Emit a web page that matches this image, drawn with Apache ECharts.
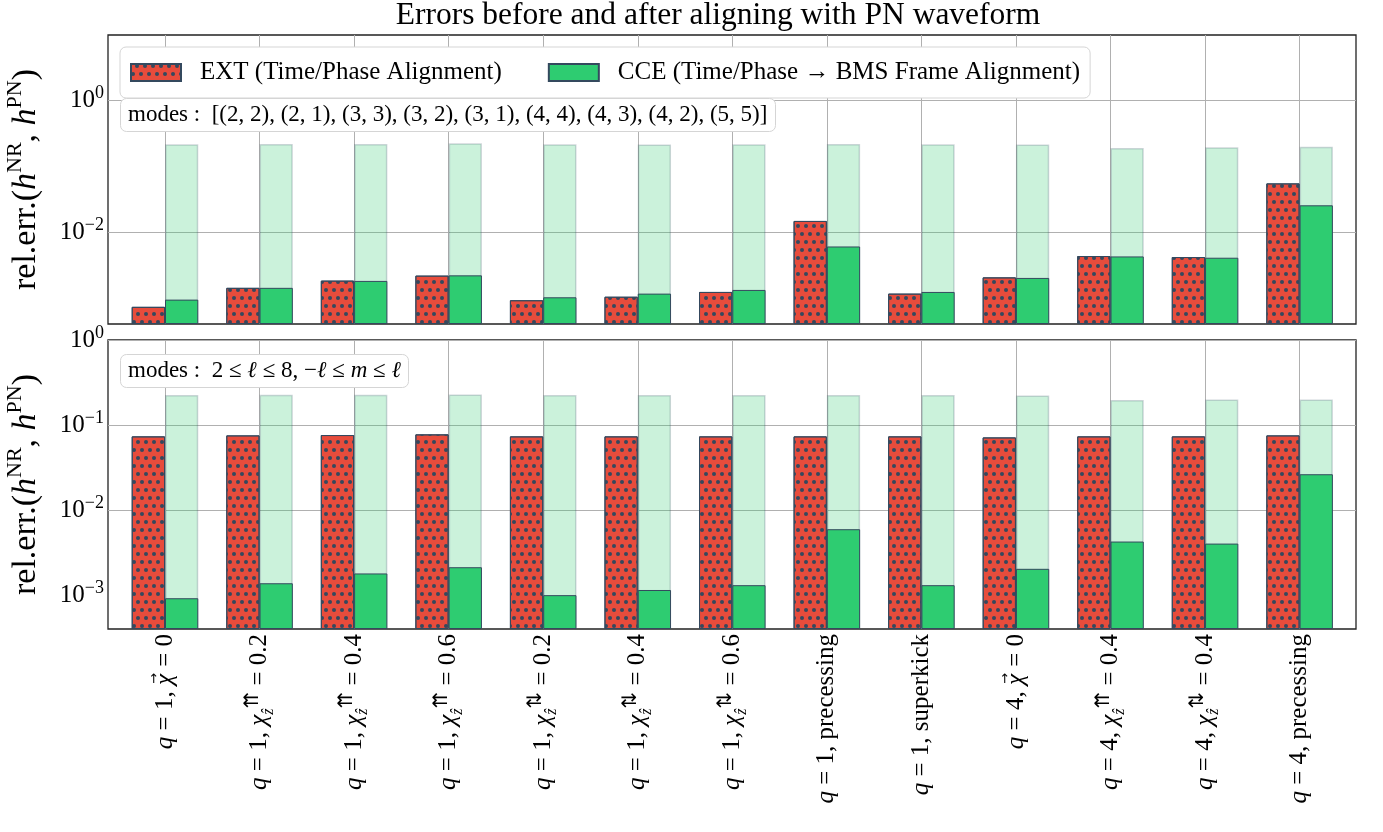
<!DOCTYPE html>
<html>
<head>
<meta charset="utf-8">
<script src="https://cdn.jsdelivr.net/npm/echarts@6/dist/echarts.min.js"></script>
<style>
  html, body { margin: 0; padding: 0; background: #fff; }
  #chart { width: 1383px; height: 832px; }
</style>
</head>
<body>
<div id="chart"></div>
<script>
// --- data ---
const categories = [
    "{i|q} = 1, {i|χ}{vec|→} = 0",
    "{i|q} = 1, {i|χ}{sub|ẑ}{sup|⇈} = 0.2",
    "{i|q} = 1, {i|χ}{sub|ẑ}{sup|⇈} = 0.4",
    "{i|q} = 1, {i|χ}{sub|ẑ}{sup|⇈} = 0.6",
    "{i|q} = 1, {i|χ}{sub|ẑ}{sup|⇅} = 0.2",
    "{i|q} = 1, {i|χ}{sub|ẑ}{sup|⇅} = 0.4",
    "{i|q} = 1, {i|χ}{sub|ẑ}{sup|⇅} = 0.6",
    "{i|q} = 1, precessing",
    "{i|q} = 1, superkick",
    "{i|q} = 4, {i|χ}{vec|→} = 0",
    "{i|q} = 4, {i|χ}{sub|ẑ}{sup|⇈} = 0.4",
    "{i|q} = 4, {i|χ}{sub|ẑ}{sup|⇅} = 0.4",
    "{i|q} = 4, precessing",
];

// top panel: modes [(2,2),(2,1),...]
const topExt = [7.3e-4, 1.42e-3, 1.83e-3, 2.18e-3, 9.2e-4, 1.04e-3, 1.23e-3, 1.48e-2, 1.16e-3, 2.05e-3, 4.33e-3, 4.18e-3, 5.52e-2];
const topCce = [9.4e-4, 1.42e-3, 1.81e-3, 2.2e-3, 1.02e-3, 1.16e-3, 1.32e-3, 6.05e-3, 1.23e-3, 2.01e-3, 4.27e-3, 4.08e-3, 2.56e-2];
const topCceBefore = [0.218, 0.22, 0.22, 0.225, 0.218, 0.216, 0.218, 0.22, 0.218, 0.216, 0.19, 0.195, 0.2];

// bottom panel: all modes 2 <= l <= 8
const bottomExt = [0.0736, 0.0756, 0.0763, 0.0777, 0.0736, 0.0736, 0.0736, 0.0736, 0.0736, 0.0716, 0.0736, 0.0736, 0.0756];
const bottomCce = [9.2e-4, 1.38e-3, 1.8e-3, 2.13e-3, 1.0e-3, 1.15e-3, 1.31e-3, 5.96e-3, 1.31e-3, 2.04e-3, 4.27e-3, 4.04e-3, 0.0264];
const bottomCceBefore = [0.225, 0.227, 0.227, 0.229, 0.225, 0.225, 0.225, 0.225, 0.225, 0.223, 0.197, 0.2, 0.2];

// tick labels (powers of ten) and grid lines
const topTickExponents = [-2, 0];
const bottomTickExponents = [-3, -2, -1, 0];
const topGridValues = [1e-2, 1];
const bottomGridValues = [1e-3, 1e-2, 1e-1, 1];

const extName = "EXT (Time/Phase Alignment)";
const cceName = "CCE (Time/Phase → BMS Frame Alignment)";

// --- styles ---
const serif = "'Liberation Serif', 'DejaVu Serif', serif";
const RED = "#e74c3c";
const GREEN = "#2ecc71";
const EDGE = "#34495e";
const GRIDC = "#b0b0b0";
const yMin = 4e-4;

const dotDecal = {
    symbol: "circle",
    symbolSize: 1,
    color: EDGE,
    dashArrayX: [[3.4, 3.3], [0, 3.35, 3.4, -0.05]],
    dashArrayY: [3.4, 3.3],
    rotation: 0,
};

const supRich = {
    b: { fontFamily: serif, fontSize: 25, lineHeight: 32, color: "#000", fontWeight: "normal" },
    s: { fontFamily: serif, fontSize: 18, lineHeight: 18, verticalAlign: "top", color: "#000", fontWeight: "normal" },
};

function tickFormatter(exps) {
    return function (v) {
        const l = Math.log10(v);
        const e = Math.round(l);
        if (Math.abs(l - e) > 1e-6 || exps.indexOf(e) < 0) return "";
        return "{b|10}{s|" + (e < 0 ? "−" + (-e) : e) + "}";
    };
}

const yName = "{r|rel.err.(}{i|h}{s|NR}{r|, }{i|h}{s|PN}{r|)}";
const yNameStyle = {
    rich: {
        r: { fontFamily: serif, fontSize: 34, lineHeight: 44, color: "#000", fontWeight: "normal" },
        i: { fontFamily: serif, fontSize: 34, lineHeight: 44, fontStyle: "italic", color: "#000", fontWeight: "normal" },
        s: { fontFamily: serif, fontSize: 22, lineHeight: 26, verticalAlign: "top", color: "#000", fontWeight: "normal" },
    },
};

const boxStyle = {
    backgroundColor: "#fff",
    borderColor: "#d5d5d5",
    borderWidth: 1,
    borderRadius: 6,
    padding: [5, 8, 5, 8],
};
const modesRich = {
    r: { fontFamily: serif, fontSize: 23, lineHeight: 28, color: "#000", fontWeight: "normal" },
    i: { fontFamily: serif, fontSize: 23, lineHeight: 28, fontStyle: "italic", color: "#000", fontWeight: "normal" },
};

// frame grids hold the y labels and the full-width grid lines,
// bar grids run from the first to the last category centre
const frameLeft = 108, frameRight = 1383 - 1356;
const barLeft = 165, barRight = 1383 - 1299.6;
const topTop = 35, bottomTop = 340, panelH = 289;

function catAxis(gridIndex, showLabels, showSplit) {
    return {
        gridIndex: gridIndex,
        type: "category",
        data: categories,
        boundaryGap: false,
        axisLine: { show: false },
        axisTick: { show: false },
        axisLabel: {
            show: showLabels,
            interval: 0,
            rotate: 90,
            margin: 5,
            fontFamily: serif,
            fontSize: 25,
            lineHeight: 34,
            color: "#000",
            rich: {
                i: { fontFamily: serif, fontSize: 25, lineHeight: 34, fontStyle: "italic", color: "#000" },
                // near zero-advance arrow, drawn back over the chi before it
                vec: { fontFamily: "'DejaVu Sans', sans-serif", fontSize: 13, lineHeight: 20, width: 1, verticalAlign: "top", color: "#000" },
                sup: { fontFamily: "'DejaVu Sans', sans-serif", fontSize: 20, lineHeight: 18, verticalAlign: "top", color: "#000" },
                sub: { fontFamily: serif, fontSize: 16, lineHeight: 16, verticalAlign: "bottom", fontStyle: "italic", color: "#000" },
            },
        },
        splitLine: { show: showSplit, interval: 0, lineStyle: { color: GRIDC, width: 1 } },
    };
}

function frameY(gridIndex, max, exps) {
    return {
        gridIndex: gridIndex,
        type: "log",
        min: yMin,
        max: max,
        axisLine: { show: false },
        axisTick: { show: false },
        splitLine: { show: false },
        axisLabel: {
            margin: 4,
            showMinLabel: false,
            formatter: tickFormatter(exps),
            rich: supRich,
        },
        name: yName,
        nameLocation: "middle",
        nameRotate: 90,
        nameGap: 60,
        nameTextStyle: yNameStyle,
    };
}

function hiddenY(gridIndex, max) {
    return { gridIndex: gridIndex, type: "log", min: yMin, max: max, startValue: yMin, show: false, splitLine: { show: false } };
}

function gridLines(xi, yi, values) {
    return {
        type: "line",
        xAxisIndex: xi,
        yAxisIndex: yi,
        data: [],
        silent: true,
        markLine: {
            silent: true,
            symbol: "none",
            z: 0,
            label: { show: false },
            lineStyle: { color: GRIDC, width: 1, type: "solid" },
            data: values.map((v) => ({ yAxis: v })),
        },
    };
}

function panelSeries(xi, xiLight, yi, ext, cce, before) {
    const common = { type: "bar", barWidth: "35.2%", barGap: "0%", clip: false, xAxisIndex: xi, yAxisIndex: yi };
    return [
        Object.assign({}, common, {
            name: extName,
            data: ext,
            itemStyle: { color: RED, borderColor: EDGE, borderWidth: 1, decal: dotDecal },
        }),
        Object.assign({}, common, {
            name: cceName,
            data: cce,
            itemStyle: { color: GREEN, borderColor: EDGE, borderWidth: 1 },
        }),
        // empty slot so the faded bars line up with the CCE column
        Object.assign({}, common, { name: "slot", xAxisIndex: xiLight, data: [], z: 1 }),
        Object.assign({}, common, {
            name: "CCE before",
            xAxisIndex: xiLight,
            data: before,
            z: 1,
            itemStyle: { color: "rgba(46,204,113,0.25)", borderColor: "rgba(52,73,94,0.22)", borderWidth: 1.5 },
        }),
    ];
}

const chart = echarts.init(document.getElementById("chart"), null, { renderer: "canvas" });

chart.setOption({
    animation: false,
    backgroundColor: "#fff",
    title: [
        {
            text: "Errors before and after aligning with PN waveform",
            left: 718,
            top: 0,
            padding: 0,
            textAlign: "center",
            textStyle: { fontFamily: serif, fontSize: 31.5, fontWeight: "normal", color: "#000" },
        },
        Object.assign({}, boxStyle, {
            text: "{r|modes :  [(2, 2), (2, 1), (3, 3), (3, 2), (3, 1), (4, 4), (4, 3), (4, 2), (5, 5)]}",
            left: 120,
            top: 96,
            textStyle: { fontWeight: "normal", rich: modesRich },
        }),
        Object.assign({}, boxStyle, {
            text: "{r|modes :  2 ≤ }{i|ℓ}{r| ≤ 8, −}{i|ℓ}{r| ≤ }{i|m}{r| ≤ }{i|ℓ}",
            left: 120,
            top: 352,
            textStyle: { fontWeight: "normal", rich: modesRich },
        }),
    ],
    legend: {
        data: [extName, cceName],
        left: 120,
        top: 47,
        padding: [13, 10, 13, 10],
        icon: "rect",
        itemWidth: 50,
        itemHeight: 17,
        itemGap: 46,
        backgroundColor: "#fff",
        borderColor: "#d5d5d5",
        borderWidth: 1,
        borderRadius: 6,
        textStyle: { fontFamily: serif, fontSize: 25, color: "#000", padding: [0, 0, 0, 14] },
    },
    grid: [
        { left: frameLeft, right: frameRight, top: topTop, height: panelH, show: true, borderColor: "#222", borderWidth: 1.3, backgroundColor: "transparent", outerBoundsMode: "none" },
        { left: frameLeft, right: frameRight, top: bottomTop, height: panelH, show: true, borderColor: "#222", borderWidth: 1.3, backgroundColor: "transparent", outerBoundsMode: "none" },
        { left: barLeft, right: barRight, top: topTop, height: panelH, outerBoundsMode: "none" },
        { left: barLeft, right: barRight, top: bottomTop, height: panelH, outerBoundsMode: "none" },
    ],
    xAxis: [
        { gridIndex: 0, type: "value", min: 0, max: 1, show: false },
        { gridIndex: 1, type: "value", min: 0, max: 1, show: false },
        catAxis(2, false, true),
        catAxis(2, false, false),
        catAxis(3, true, true),
        catAxis(3, false, false),
    ],
    yAxis: [
        frameY(0, 10, topTickExponents),
        frameY(1, 1, bottomTickExponents),
        hiddenY(2, 10),
        hiddenY(3, 1),
    ],
    series: [
        gridLines(0, 0, topGridValues),
        gridLines(1, 1, bottomGridValues),
    ]
        .concat(panelSeries(2, 3, 2, topExt, topCce, topCceBefore))
        .concat(panelSeries(4, 5, 3, bottomExt, bottomCce, bottomCceBefore)),
});
</script>
</body>
</html>
